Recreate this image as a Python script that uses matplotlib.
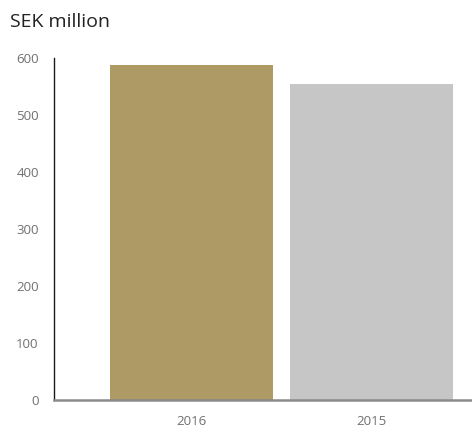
import matplotlib.pyplot as plt

# values in SEK million
years = ['2016', '2015']
values = [588, 554]
colors = ['#AE9A64', '#C6C6C6']
yticks = [0, 100, 200, 300, 400, 500, 600]

plt.rcParams['font.family'] = ['Open Sans', 'DejaVu Sans']

fig = plt.figure(figsize=(4.72, 4.29), dpi=100)
ax = fig.add_axes([54/472, 29/429, 1 - 54/472, 342/429])

x = range(len(years))
ax.bar(x, values, width=0.905, color=colors)

ax.set_xlim(-0.764, 1.558)
ax.set_ylim(0, 600)
ax.set_yticks(yticks)
ax.set_xticks(list(x))
ax.set_xticklabels(years)

ax.tick_params(axis='both', length=0, labelsize=9.5, labelcolor='#707070')
ax.tick_params(axis='y', pad=11)
ax.tick_params(axis='x', pad=11)

for s in ['top', 'right']:
	ax.spines[s].set_visible(False)
ax.spines['left'].set_color('#1a1a1a')
ax.spines['left'].set_linewidth(1.0)
ax.spines['bottom'].set_color('#8a8a8a')
ax.spines['bottom'].set_linewidth(1.8)

fig.text(10/472, 1 - 27/429, 'SEK million', fontsize=14, color='#222222')

fig.savefig('out.png', dpi=100)
